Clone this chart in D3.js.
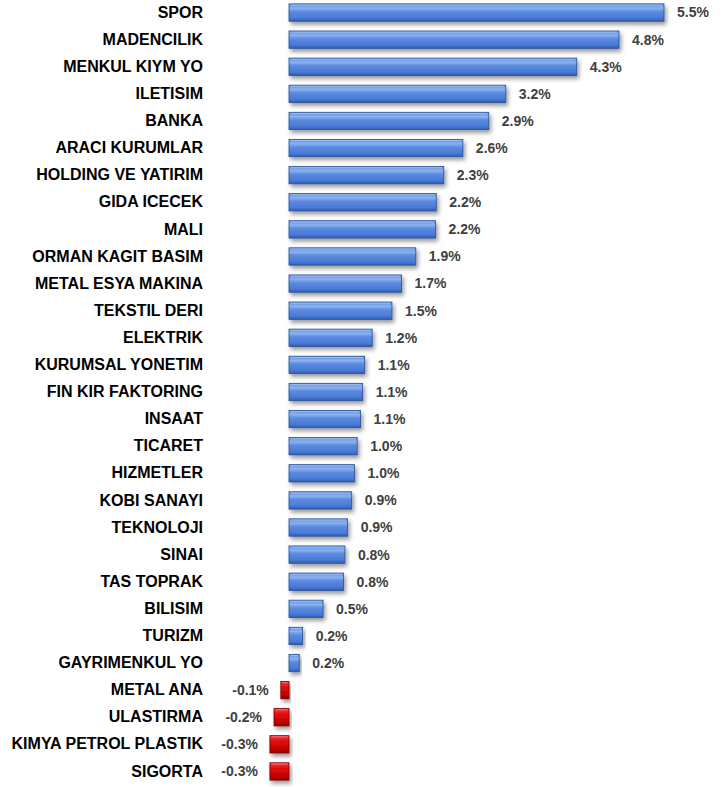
<!DOCTYPE html>
<html>
<head>
<meta charset="utf-8">
<script src="https://cdn.jsdelivr.net/npm/d3@7"></script>
<style>
  body { margin: 0; background: #fff; }
  svg text { font-family: "Liberation Sans", Arial, sans-serif; font-weight: bold; }
</style>
</head>
<body>
<svg id="drawing_region"></svg>
<script>
const categories = ["SPOR", "MADENCILIK", "MENKUL KIYM YO", "ILETISIM", "BANKA", "ARACI KURUMLAR",
  "HOLDING VE YATIRIM", "GIDA ICECEK", "MALI", "ORMAN KAGIT BASIM", "METAL ESYA MAKINA",
  "TEKSTIL DERI", "ELEKTRIK", "KURUMSAL YONETIM", "FIN KIR FAKTORING", "INSAAT", "TICARET",
  "HIZMETLER", "KOBI SANAYI", "TEKNOLOJI", "SINAI", "TAS TOPRAK", "BILISIM", "TURIZM",
  "GAYRIMENKUL YO", "METAL ANA", "ULASTIRMA", "KIMYA PETROL PLASTIK", "SIGORTA"];
const values = [5.5, 4.84, 4.22, 3.18, 2.93, 2.55, 2.27, 2.16, 2.15, 1.86, 1.65, 1.51, 1.22,
  1.11, 1.08, 1.05, 1.0, 0.96, 0.92, 0.86, 0.82, 0.8, 0.5, 0.2, 0.15, -0.12, -0.22, -0.28, -0.28];
const labels = ["5.5%", "4.8%", "4.3%", "3.2%", "2.9%", "2.6%", "2.3%", "2.2%", "2.2%", "1.9%",
  "1.7%", "1.5%", "1.2%", "1.1%", "1.1%", "1.1%", "1.0%", "1.0%", "0.9%", "0.9%", "0.8%",
  "0.8%", "0.5%", "0.2%", "0.2%", "-0.1%", "-0.2%", "-0.3%", "-0.3%"];

const data = categories.map((c, i) => ({ cat: c, value: values[i], label: labels[i] }));

const config = {
  width: 724,
  height: 787,
  margin: { top: -1, right: 60, bottom: 2, left: 0 }
};

const svg = d3.select('#drawing_region')
  .attr('width', config.width)
  .attr('height', config.height);

const defs = svg.append('defs');

const blue = defs.append('linearGradient').attr('id', 'blueGrad')
  .attr('x1', 0).attr('y1', 0).attr('x2', 0).attr('y2', 1);
blue.append('stop').attr('offset', '0%').attr('stop-color', '#5d8fe0');
blue.append('stop').attr('offset', '25%').attr('stop-color', '#8cb2ee');
blue.append('stop').attr('offset', '45%').attr('stop-color', '#5a8ae0');
blue.append('stop').attr('offset', '80%').attr('stop-color', '#4a7bd6');
blue.append('stop').attr('offset', '100%').attr('stop-color', '#2f5cb0');

const red = defs.append('linearGradient').attr('id', 'redGrad')
  .attr('x1', 0).attr('y1', 0).attr('x2', 0).attr('y2', 1);
red.append('stop').attr('offset', '0%').attr('stop-color', '#f04040');
red.append('stop').attr('offset', '30%').attr('stop-color', '#e01010');
red.append('stop').attr('offset', '75%').attr('stop-color', '#c80000');
red.append('stop').attr('offset', '100%').attr('stop-color', '#900000');

const shadow = defs.append('filter').attr('id', 'shadow')
  .attr('x', '-10%').attr('y', '-30%').attr('width', '130%').attr('height', '190%');
shadow.append('feDropShadow').attr('dx', 2).attr('dy', 3).attr('stdDeviation', 2)
  .attr('flood-color', '#000').attr('flood-opacity', 0.4);

const xscale = d3.scaleLinear()
  .domain([0, 5.5])
  .range([289, 664]);

const yscale = d3.scaleBand()
  .domain(categories)
  .range([config.margin.top, config.height - config.margin.bottom])
  .paddingInner(0.36)
  .paddingOuter(0.18);

const chart = svg.append('g');

// category labels sit in a fixed column left of the bars
const yaxis = d3.axisLeft(yscale).tickSize(0).tickPadding(0);
const yaxis_group = chart.append('g')
  .attr('transform', 'translate(203, 0)')
  .call(yaxis);
yaxis_group.select('.domain').remove();
yaxis_group.selectAll('text')
  .attr('font-size', 16)
  .attr('fill', '#000')
  .style('font-family', '"Liberation Sans", Arial, sans-serif')
  .style('font-weight', 'bold');

const bars = chart.selectAll('.bar')
  .data(data)
  .enter()
  .append('g')
  .attr('class', 'bar');

bars.append('rect')
  .attr('x', d => Math.min(xscale(0), xscale(d.value)))
  .attr('y', d => yscale(d.cat))
  .attr('width', d => Math.abs(xscale(d.value) - xscale(0)))
  .attr('height', yscale.bandwidth())
  .attr('fill', d => d.value >= 0 ? 'url(#blueGrad)' : 'url(#redGrad)')
  .attr('stroke', d => d.value >= 0 ? '#2a4f96' : '#7a0000')
  .attr('stroke-width', 0.8)
  .attr('filter', 'url(#shadow)');

// bevel highlight on top edge
bars.append('line')
  .attr('x1', d => Math.min(xscale(0), xscale(d.value)) + 1.5)
  .attr('x2', d => Math.max(xscale(0), xscale(d.value)) - 1.5)
  .attr('y1', d => yscale(d.cat) + 1.2)
  .attr('y2', d => yscale(d.cat) + 1.2)
  .attr('stroke', d => d.value >= 0 ? '#a9c6f5' : '#ff8080')
  .attr('stroke-width', 1)
  .attr('opacity', 0.8);

bars.append('text')
  .attr('x', d => d.value >= 0 ? xscale(d.value) + 13 : xscale(d.value) - 12)
  .attr('y', d => yscale(d.cat) + yscale.bandwidth() / 2)
  .attr('dy', '0.35em')
  .attr('text-anchor', d => d.value >= 0 ? 'start' : 'end')
  .attr('font-size', 14)
  .attr('fill', '#404040')
  .text(d => d.label);
</script>
</body>
</html>
